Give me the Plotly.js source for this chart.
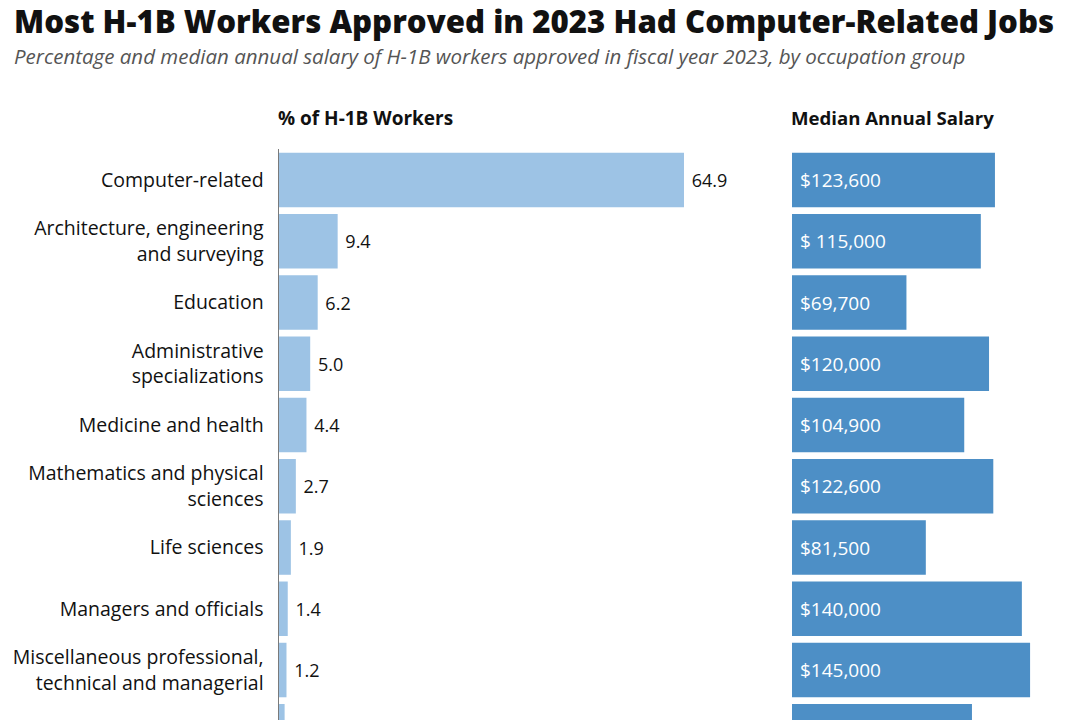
<!DOCTYPE html>
<html>
<head>
<meta charset="utf-8">
<script src="https://cdn.plot.ly/plotly-3.0.1.min.js"></script>
<style>
html,body{margin:0;padding:0;background:#fff;overflow:hidden;}
#chart{width:1080px;height:720px;}
</style>
</head>
<body>
<div id="chart"></div>
<script>
const categories = [
  "Computer-related",
  "Architecture, engineering<br>and surveying",
  "Education",
  "Administrative<br>specializations",
  "Medicine and health",
  "Mathematics and physical<br>sciences",
  "Life sciences",
  "Managers and officials",
  "Miscellaneous professional,<br>technical and managerial",
  "Social sciences"
];
const percentValues = [64.9, 9.4, 6.2, 5.0, 4.4, 2.7, 1.9, 1.4, 1.2, 0.9];
const percentLabels = ["64.9", "9.4", "6.2", "5.0", "4.4", "2.7", "1.9", "1.4", "1.2", "0.9"];
const salaryValues = [123600, 115000, 69700, 120000, 104900, 122600, 81500, 140000, 145000, 109600];
const salaryLabels = ["$123,600", "$ 115,000", "$69,700", "$120,000", "$104,900", "$122,600", "$81,500", "$140,000", "$145,000", "$109,600"];

const FONT = "'Open Sans', Roboto, sans-serif";
const W = 1080;

const traces = [
  {
    type: "bar", orientation: "h",
    x: percentValues, y: categories,
    xaxis: "x", yaxis: "y",
    marker: {color: "#9dc3e5"},
    width: 0.89,
    text: percentLabels, texttemplate: " %{text}", textposition: "outside", cliponaxis: false,
    textfont: {family: FONT, size: 18, color: "#111"},
    hoverinfo: "none"
  },
  {
    type: "bar", orientation: "h",
    x: salaryValues, y: categories,
    xaxis: "x2", yaxis: "y2",
    marker: {color: "#4d8fc6"},
    width: 0.89,
    text: salaryLabels, texttemplate: " %{text}", textposition: "inside", insidetextanchor: "start",
    textfont: {family: FONT, size: 19, color: "#ffffff"},
    hoverinfo: "none"
  }
];

const yr = [8.816, -0.5];
const layout = {
  width: 1080, height: 720,
  margin: {l: 0, r: 0, t: 0, b: 0},
  paper_bgcolor: "#fff", plot_bgcolor: "#fff",
  showlegend: false,
  bargap: 0.11,
  font: {family: FONT, color: "#111"},
  xaxis: {domain: [279/W, 760/W], range: [0, 77.08], visible: false, fixedrange: true},
  xaxis2: {domain: [792/W, 1], range: [0, 175400], visible: false, fixedrange: true},
  yaxis: {
    domain: [0, 570.6/720], range: yr, anchor: "x",
    showline: true, linecolor: "#7a7a7a", linewidth: 1.5,
    ticks: "", ticklabelstandoff: 10,
    showgrid: false, zeroline: false,
    tickfont: {family: FONT, size: 19.5, color: "#111"}
  },
  yaxis2: {
    domain: [0, 570.6/720], range: yr, anchor: "x2",
    showticklabels: false, showgrid: false, zeroline: false, showline: false
  },
  annotations: [
    {text: "Most H-1B Workers Approved in 2023 Had Computer-Related Jobs",
     xref: "paper", yref: "paper", x: 12/W, y: 1 + 2/720, xanchor: "left", yanchor: "top",
     showarrow: false, font: {family: FONT, size: 31.2, weight: 800, color: "#111"}},
    {text: "<i>Percentage and median annual salary of H-1B workers approved in fiscal year 2023, by occupation group</i>",
     xref: "paper", yref: "paper", x: 12/W, y: 1 - 40/720, xanchor: "left", yanchor: "top",
     showarrow: false, font: {family: FONT, size: 20.5, color: "#555"}},
    {text: "<b>% of H-1B Workers</b>",
     xref: "paper", yref: "paper", x: 276/W, y: 1 - 103/720, xanchor: "left", yanchor: "top",
     showarrow: false, font: {family: FONT, size: 19, color: "#111"}},
    {text: "<b>Median Annual Salary</b>",
     xref: "paper", yref: "paper", x: 789/W, y: 1 - 103/720, xanchor: "left", yanchor: "top",
     showarrow: false, font: {family: FONT, size: 18.6, color: "#111"}}
  ]
};

Plotly.newPlot("chart", traces, layout, {displayModeBar: false, staticPlot: true});
</script>
</body>
</html>
